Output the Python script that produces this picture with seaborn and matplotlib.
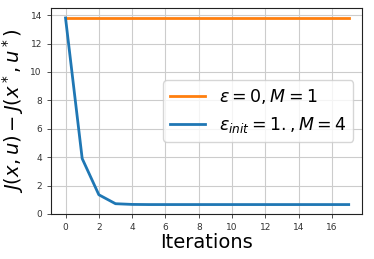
import numpy as np
import pandas as pd
import matplotlib
matplotlib.use("Agg")
import matplotlib.pyplot as plt
import seaborn as sns

iterations = list(range(18))
baseline_vals = [13.8] * 18
adaptive_vals = [13.8, 3.9, 1.35, 0.72, 0.67, 0.66, 0.66, 0.66, 0.66, 0.66,
                 0.66, 0.66, 0.66, 0.66, 0.66, 0.66, 0.66, 0.66]
labels = [r'$\varepsilon = 0, M = 1$', r'$\varepsilon_{init} = 1., M = 4$']
colors = ['#ff7f0e', '#1f77b4']

df = pd.DataFrame({
    'it': iterations * 2,
    'val': baseline_vals + adaptive_vals,
    'series': [labels[0]] * 18 + [labels[1]] * 18,
})

plt.rcParams['font.family'] = ['DejaVu Sans']
fig = plt.figure(figsize=(3.74, 2.59), dpi=100)
ax = fig.add_axes([0.136, 0.174, 0.832, 0.795])
sns.lineplot(data=df, x='it', y='val', hue='series', hue_order=labels,
             palette=dict(zip(labels, colors)), linewidth=2, ax=ax)
ax.set_ylim(0, 14.5)
ax.set_xlim(-0.88, 17.8)
ax.set_xticks(np.arange(0, 17, 2))
ax.set_yticks(np.arange(0, 15, 2))
ax.tick_params(labelsize=6.5, length=3, width=0.6, colors='#333333')
ax.grid(True, color='#cccccc', linewidth=0.8)
for s in ax.spines.values():
    s.set_color('#222222')
    s.set_linewidth(0.8)
ax.set_xlabel('Iterations', fontsize=14, labelpad=1)
ax.set_ylabel(r'$J(x,u) - J(x^*,u^*)$', fontsize=14, labelpad=3)
ax.legend(loc='center right', fontsize=12.5, handlelength=2.0, framealpha=0.8)
fig.savefig('out.png', dpi=100)
